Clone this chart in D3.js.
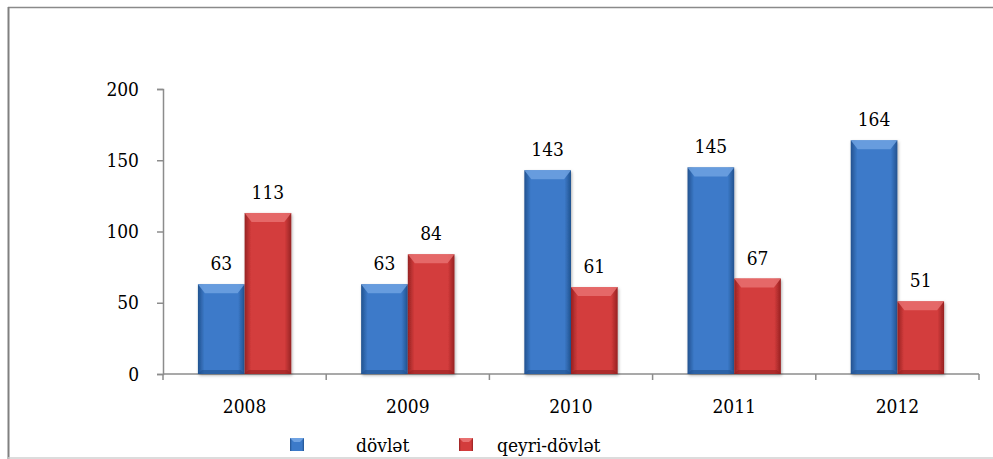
<!DOCTYPE html>
<html>
<head>
<meta charset="utf-8">
<script src="https://cdn.jsdelivr.net/npm/d3@7"></script>
<style>
  html, body { margin: 0; padding: 0; background: #fff; }
  svg text { font-family: "DejaVu Serif Condensed", "DejaVu Serif", serif !important; font-stretch: condensed; }
</style>
</head>
<body>
<div id="chart"></div>
<script>
// data
const years = ['2008', '2009', '2010', '2011', '2012']
const seriesNames = ['dövlət', 'qeyri-dövlət']
const dovlet = [63, 63, 143, 145, 164]
const qeyriDovlet = [113, 84, 61, 67, 51]
const yTicks = [0, 50, 100, 150, 200]

const seriesColors = [
  { base: '#3c7ac9', light: '#6fa2e2', dark: '#22528f' },
  { base: '#d33c3c', light: '#e87070', dark: '#962222' }
]

const W = 993
const H = 459
const margin = { top: 89, right: 14, bottom: 85, left: 163 }
const width = W - margin.left - margin.right
const height = H - margin.top - margin.bottom
const fontSize = 19

const svg = d3.select('#chart')
  .append('svg')
  .attr('width', W)
  .attr('height', H)

// рамка
svg.append('line').attr('x1', 8).attr('x2', W).attr('y1', 7.5).attr('y2', 7.5)
  .attr('stroke', '#8a8a8a').attr('stroke-width', 1.5)
svg.append('line').attr('x1', 8.5).attr('x2', 8.5).attr('y1', 7).attr('y2', H)
  .attr('stroke', '#808080').attr('stroke-width', 2)
svg.append('line').attr('x1', 8).attr('x2', W).attr('y1', 458).attr('y2', 458)
  .attr('stroke', '#d0d0d0').attr('stroke-width', 1.5)

const defs = svg.append('defs')
seriesColors.forEach((c, i) => {
  const g = defs.append('linearGradient').attr('id', 'grad' + i)
    .attr('x1', 0).attr('x2', 1).attr('y1', 0).attr('y2', 0)
  g.append('stop').attr('offset', '0%').attr('stop-color', c.dark)
  g.append('stop').attr('offset', '14%').attr('stop-color', c.base)
  g.append('stop').attr('offset', '86%').attr('stop-color', c.base)
  g.append('stop').attr('offset', '100%').attr('stop-color', c.dark)
})
const shadow = defs.append('filter').attr('id', 'shadow')
  .attr('x', '-20%').attr('y', '-10%').attr('width', '140%').attr('height', '120%')
shadow.append('feDropShadow').attr('dx', 1).attr('dy', 1.5).attr('stdDeviation', 1.5)
  .attr('flood-color', '#000').attr('flood-opacity', 0.3)

const g = svg.append('g').attr('transform', `translate(${margin.left},${margin.top})`)

// шкали
const x0 = d3.scaleBand().domain(years).range([0, width]).paddingInner(0.428).paddingOuter(0.214)
const x1 = d3.scaleBand().domain(seriesNames).range([0, x0.bandwidth()])
const y = d3.scaleLinear().domain([0, 200]).range([height, 0])

// вісь Y
const yAxis = g.append('g')
  .call(d3.axisLeft(y).tickValues(yTicks).tickSize(6).tickPadding(18))
yAxis.select('.domain').attr('stroke', '#8c8c8c').attr('stroke-width', 1.5)
yAxis.selectAll('.tick line').attr('stroke', '#8c8c8c').attr('stroke-width', 1.5)
yAxis.selectAll('.tick text').attr('font-size', fontSize).attr('fill', '#000')

// вісь X з рисками на межах категорій
const xAxisG = g.append('g').attr('transform', `translate(0,${height})`)
xAxisG.append('line').attr('x1', 0).attr('x2', width).attr('y1', 0).attr('y2', 0)
  .attr('stroke', '#8c8c8c').attr('stroke-width', 1.5)
const boundaries = years.map((d, i) => i === 0 ? 0 : x0(d) - x0.step() * x0.paddingInner() / 2)
boundaries.push(width)
xAxisG.selectAll('.bt').data(boundaries).join('line')
  .attr('x1', d => d).attr('x2', d => d).attr('y1', 0).attr('y2', 6)
  .attr('stroke', '#8c8c8c').attr('stroke-width', 1.5)
xAxisG.selectAll('.xl').data(years).join('text')
  .attr('x', d => x0(d) + x0.bandwidth() / 2)
  .attr('y', 39)
  .attr('text-anchor', 'middle')
  .attr('font-size', fontSize)
  .text(d => d)

// стовпці
const rows = years.map((yr, i) => ({ year: yr, values: [dovlet[i], qeyriDovlet[i]] }))

function drawBar (sel, xPos, w, yTop, hgt, i) {
  const c = seriesColors[i]
  sel.append('rect')
    .attr('x', xPos).attr('y', yTop).attr('width', w).attr('height', hgt)
    .attr('fill', `url(#grad${i})`)
    .attr('filter', 'url(#shadow)')
  const b = Math.min(9, hgt)
  sel.append('path')
    .attr('d', `M${xPos},${yTop}L${xPos + w},${yTop}L${xPos + w - 7},${yTop + b}L${xPos + 7},${yTop + b}Z`)
    .attr('fill', c.light).attr('opacity', 0.85)
  sel.append('path')
    .attr('d', `M${xPos},${yTop + hgt}L${xPos + w},${yTop + hgt}L${xPos + w - 4},${yTop + hgt - 4}L${xPos + 4},${yTop + hgt - 4}Z`)
    .attr('fill', c.dark).attr('opacity', 0.6)
}

const groups = g.selectAll('.grp').data(rows).join('g')
  .attr('transform', d => `translate(${x0(d.year)},0)`)

groups.each(function (d) {
  const grp = d3.select(this)
  d.values.forEach((v, i) => {
    const xp = x1(seriesNames[i])
    drawBar(grp, xp, x1.bandwidth(), y(v), height - y(v), i)
    grp.append('text')
      .attr('x', xp + x1.bandwidth() / 2)
      .attr('y', y(v) - 14)
      .attr('text-anchor', 'middle')
      .attr('font-size', fontSize)
      .text(v)
  })
})

// легенда
const legendItems = [
  { name: seriesNames[0], mx: 290, tx: 356 },
  { name: seriesNames[1], mx: 459, tx: 497 }
]
const legend = svg.append('g')
legendItems.forEach((it, i) => {
  const c = seriesColors[i]
  legend.append('rect').attr('x', it.mx).attr('y', 438).attr('width', 14).attr('height', 13)
    .attr('fill', `url(#grad${i})`)
  legend.append('path')
    .attr('d', `M${it.mx},438L${it.mx + 14},438L${it.mx + 10},442L${it.mx + 4},442Z`)
    .attr('fill', c.light)
  legend.append('text').attr('x', it.tx).attr('y', 452).attr('font-size', fontSize).text(it.name)
})
</script>
</body>
</html>
